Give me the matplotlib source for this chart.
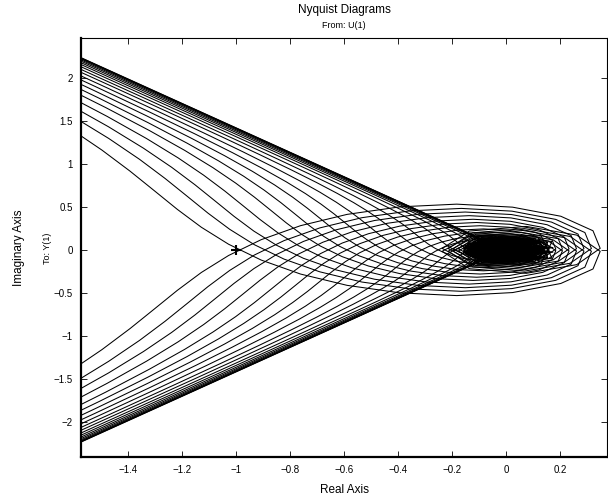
import numpy as np
import matplotlib
matplotlib.use("Agg")
import matplotlib.pyplot as plt

# loop gains of the plotted family (one curve each, +/- frequency branches)
gains = [0.002, 0.005, 0.01, 0.02, 0.04, 0.07, 0.11, 0.16, 0.22, 0.29, 0.36,
         0.44, 0.52, 0.60, 0.68, 0.76, 0.85, 0.94, 1.03, 1.136]
delay = 1.0          # dead time
order = 1.39         # fractional integrator order
zero_w = 0.85        # first lead zero
pole_w = 2.1         # lag pole
zero2_w = 8.0        # second (fractional) lead zero
zero2_exp = 1.39
w_lo, w_hi, n_w = -3.018, 2.482, 100   # frequency grid (log10 bounds, points)

xticks = [-1.4, -1.2, -1.0, -0.8, -0.6, -0.4, -0.2, 0.0, 0.2]
xticklabels = ['\u22121.4', '\u22121.2', '\u22121', '\u22120.8', '\u22120.6',
               '\u22120.4', '\u22120.2', '0', '0.2']
yticks = [-2.0, -1.5, -1.0, -0.5, 0.0, 0.5, 1.0, 1.5, 2.0]
yticklabels = ['\u22122', '\u22121.5', '\u22121', '\u22120.5', '0', '0.5', '1',
               '1.5', '2']

plt.rcParams['font.family'] = ['Liberation Sans', 'DejaVu Sans']

w = np.logspace(w_lo, w_hi, n_w)
s = 1j * w
base = ((1 + s / zero_w) * (1 + s / zero2_w) ** zero2_exp
        / (s ** order * (1 + s / pole_w)) * np.exp(-s * delay))

fig = plt.figure(figsize=(6.08, 5.0), dpi=100)
ax = fig.add_axes([81 / 608, 1 - 457 / 500, 526 / 608, 419 / 500])

for k in gains:
    g = k * base
    ax.plot(g.real, g.imag, color='k', lw=0.75)
    ax.plot(g.real, -g.imag, color='k', lw=0.75)

ax.plot([-1], [0], marker='+', color='k', ms=7, mew=1.5)

ax.set_xlim(-1.574, 0.3735)
ax.set_ylim(-2.41, 2.465)
ax.set_xticks(xticks)
ax.set_xticklabels(xticklabels)
ax.set_yticks(yticks)
ax.set_yticklabels(yticklabels)
ax.tick_params(direction='in', length=4, width=0.6, labelsize=7,
               top=True, right=True, pad=6)
for side in ['left', 'bottom']:
    ax.spines[side].set_linewidth(1.6)
for side in ['top', 'right']:
    ax.spines[side].set_linewidth(0.8)

fig.text(344 / 608, 1 - 10 / 500, 'Nyquist Diagrams', ha='center', va='center', fontsize=8.5)
fig.text(344 / 608, 1 - 25 / 500, 'From: U(1)', ha='center', va='center', fontsize=6.5)
fig.text(344 / 608, 1 - 490 / 500, 'Real Axis', ha='center', va='center', fontsize=8.5)
fig.text(19 / 608, 1 - 248 / 500, 'Imaginary Axis', ha='center', va='center',
         rotation=90, fontsize=8.5)
fig.text(48 / 608, 1 - 248 / 500, 'To: Y(1)', ha='center', va='center',
         rotation=90, fontsize=6.5)

fig.savefig('out.png', dpi=100)
